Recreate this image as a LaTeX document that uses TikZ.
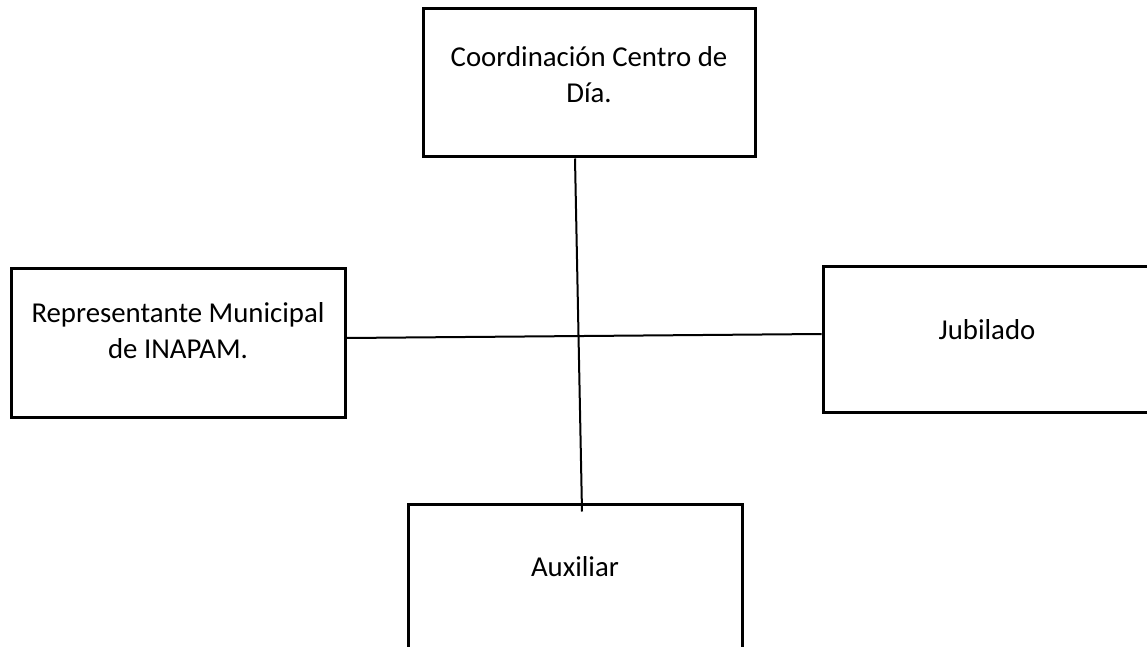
\documentclass[tikz,border=0pt]{standalone}
\usepackage{fontspec}
\setmainfont{Carlito}
\usetikzlibrary{positioning}

\tikzset{
  caja/.style={draw, line width=1.5pt, rectangle, inner sep=0pt},
  texto/.style={align=center, inner sep=0pt, font=\fontsize{14.4}{18}\selectfont},
  linea/.style={line width=1pt}
}

\begin{document}
\begin{tikzpicture}[x=0.5pt, y=-0.5pt]
  % Marco
  \fill[white] (0,0) rectangle (1147,647);
  \useasboundingbox (0,0) rectangle (1147,647);
  \clip (0,0) rectangle (1147,647);
  % Cajas
  \node[caja, minimum width=166pt, minimum height=74pt] (coord) at (589,83) {};
  \node[caja, minimum width=167pt, minimum height=74.5pt] (rep) at (178,342.5) {};
  \node[caja, minimum width=164pt, minimum height=73pt] (jub) at (987,339) {};
  \node[caja, minimum width=167pt, minimum height=100pt] (aux) at (575,604) {};
  % Textos
  \node[texto, below=19.5pt of coord.north] (tcoord) {Coordinación Centro de\\Día.};
  \node[texto, below=18pt of rep.north] (trep) {Representante Municipal\\de INAPAM.};
  \node[texto, below=27.5pt of jub.north] (tjub) {Jubilado};
  \node[texto, below=27pt of aux.north] (taux) {Auxiliar};
  % Lineas
  \draw[linea] ([xshift=-7pt]coord.south) -- ([xshift=3.5pt,yshift=-4.5pt]aux.north);
  \draw[linea] ([yshift=2.25pt]rep.east) -- ([yshift=2.5pt]jub.west);
\end{tikzpicture}
\end{document}
